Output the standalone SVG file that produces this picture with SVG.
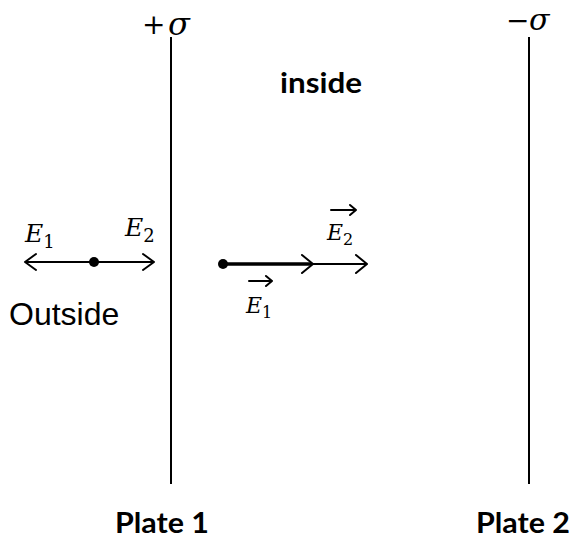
<svg xmlns="http://www.w3.org/2000/svg" width="574" height="541" viewBox="0 0 574 541">
<style>
.plate{stroke:#000;stroke-width:2;fill:none}
.ln{stroke:#000;stroke-width:2;fill:none}
.math{font-family:"DejaVu Serif","Liberation Serif",serif;font-style:italic;fill:#000}
.sub{font-family:"DejaVu Serif","Liberation Serif",serif;font-style:normal;fill:#000}
.lbl{font-family:"Liberation Sans",Arial,sans-serif;fill:#000}
.bold{font-family:Lato,"Open Sans",sans-serif;font-weight:700;fill:#000}
.head{stroke:#000;stroke-width:2;fill:none;stroke-linecap:round;stroke-linejoin:round}
</style>
<rect width="574" height="541" fill="#fff"/>
<g id="plate1">
<line class="plate" x1="171" y1="37" x2="171" y2="484"/>
<text class="sub" x="142" y="34" font-size="28">+</text>
<text class="math" x="168" y="35" font-size="32">σ</text>
<text class="bold" x="115" y="533" font-size="29" textLength="94" lengthAdjust="spacingAndGlyphs">Plate 1</text>
</g>
<g id="plate2">
<line class="plate" x1="529" y1="37" x2="529" y2="484"/>
<text class="sub" x="506" y="30" font-size="28">−</text>
<text class="math" x="529" y="30" font-size="30">σ</text>
<text class="bold" x="476" y="533" font-size="29" textLength="94" lengthAdjust="spacingAndGlyphs">Plate 2</text>
</g>
<g id="inside-label">
<text class="bold" x="280" y="93" font-size="29" textLength="82" lengthAdjust="spacingAndGlyphs">inside</text>
</g>
<g id="outside">
<text class="lbl" x="9" y="325" font-size="32">Outside</text>
<text class="math" x="25" y="242" font-size="25">E<tspan class="sub" font-size="18" dy="6">1</tspan></text>
<text class="math" x="125" y="236" font-size="25">E<tspan class="sub" font-size="18" dy="6">2</tspan></text>
<circle cx="94" cy="262" r="5" fill="#000"/>
</g>
<g id="inside-fields">
<circle cx="223" cy="264" r="5" fill="#000"/>
<path class="head" d="M331 210 H356 M350 205 L356 210 L350 215"/>
<text class="math" x="327" y="240" font-size="22">E<tspan class="sub" font-size="16" dy="5">2</tspan></text>
<path class="head" d="M249 281 H272 M266 276 L272 281 L266 286"/>
<text class="math" x="246" y="313" font-size="22">E<tspan class="sub" font-size="16" dy="5">1</tspan></text>
</g>
<g id="connectors">
<line class="ln" x1="25" y1="262" x2="154" y2="262"/>
<path class="head" d="M36 254 L25 262 L36 270"/>
<path class="head" d="M143 254 L154 262 L143 270"/>
<line stroke="#000" stroke-width="3.5" x1="223" y1="264" x2="312" y2="264"/>
<path class="head" d="M302 255 L313 264 L302 273"/>
<line class="ln" x1="312" y1="264" x2="367" y2="264"/>
<path class="head" d="M356 255 L367 264 L356 273"/>
</g>
</svg>
